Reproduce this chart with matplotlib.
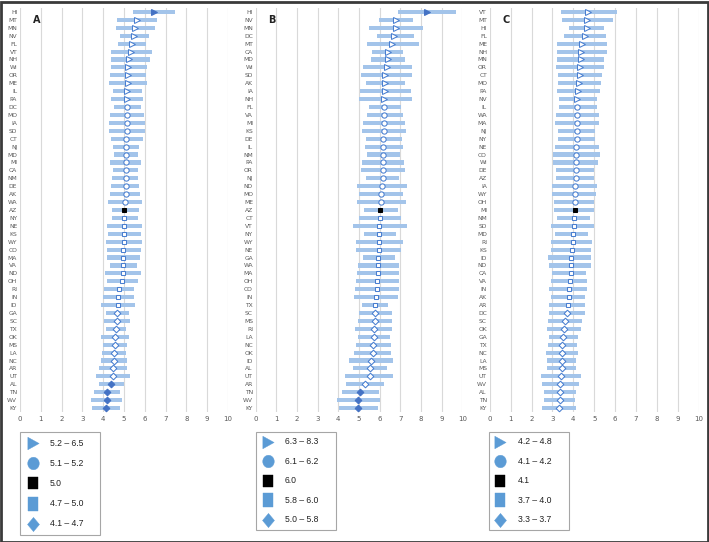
import matplotlib
matplotlib.use("Agg")
import numpy as np
import matplotlib.pyplot as plt
from matplotlib.patches import Rectangle

# ---------------- data ----------------
states_a = ["HI","MT","MN","NV","FL","VT","NH","WI","OR","ME","IL","PA","DC","MO","IA","SD","CT","NJ",
            "MD","MI","CA","NM","DE","AK","WA","AZ","NY","NE","KS","WY","CO","MA","VA","ND","OH","RI",
            "IN","ID","GA","SC","TX","OK","MS","LA","NC","AR","UT","AL","TN","WV","KY"]
est_a = [6.45,5.61,5.53,5.48,5.37,5.32,5.26,5.21,5.19,5.18,5.16,5.16,5.14,5.14,5.13,5.13,5.11,5.11,
         5.10,5.10,5.10,5.09,5.09,5.08,5.07,5.02,5.01,5.00,5.00,4.98,4.97,4.96,4.96,4.95,4.90,4.78,
         4.73,4.70,4.68,4.65,4.60,4.57,4.55,4.50,4.50,4.45,4.45,4.38,4.17,4.17,4.12]
lo_a = [5.45,4.68,4.62,4.81,4.70,4.36,4.36,4.36,4.34,4.28,4.49,4.39,4.50,4.34,4.26,4.26,4.36,4.47,
        4.50,4.34,4.46,4.44,4.39,4.31,4.25,4.41,4.42,4.20,4.23,4.15,4.17,4.17,4.33,4.10,4.17,4.06,
        4.01,3.91,4.14,4.04,4.12,3.90,4.00,3.96,3.88,3.81,3.65,3.81,3.56,3.43,3.45]
hi_a = [7.44,6.59,6.47,6.20,6.04,6.36,6.23,6.09,6.08,6.12,5.85,5.93,5.82,5.95,6.03,6.03,5.90,5.74,
        5.67,5.82,5.69,5.67,5.71,5.79,5.85,5.71,5.66,5.85,5.80,5.87,5.82,5.77,5.63,5.82,5.67,5.50,
        5.48,5.51,5.24,5.27,5.10,5.24,5.13,5.08,5.16,5.14,5.27,4.98,4.79,4.90,4.79]
sig_a = ["HI","AL","TN","WV","KY"]

states_b = ["HI","NV","MN","DC","MT","CA","MD","WI","SD","AK","IA","NH","FL","VA","MI","KS","DE","IL",
            "NM","PA","OR","NJ","ND","MO","ME","AZ","CT","VT","NY","WY","NE","GA","WA","MA","OH","CO",
            "IN","TX","SC","MS","RI","LA","NC","OK","ID","AL","UT","AR","TN","WV","KY"]
est_b = [8.28,6.77,6.77,6.71,6.60,6.39,6.39,6.34,6.27,6.26,6.26,6.23,6.20,6.20,6.19,6.19,6.18,6.18,
         6.18,6.16,6.16,6.16,6.10,6.06,6.06,6.03,6.00,5.99,5.99,5.97,5.96,5.94,5.92,5.90,5.87,5.87,
         5.81,5.77,5.77,5.77,5.74,5.71,5.69,5.68,5.58,5.53,5.52,5.31,5.07,4.97,4.97]
lo_b = [6.87,5.97,5.50,5.86,5.37,5.65,5.58,5.18,5.10,5.34,5.05,4.98,5.47,5.37,5.21,5.16,5.32,5.27,
        5.37,5.15,5.10,5.34,4.89,5.02,4.89,5.23,5.02,4.73,5.23,4.85,4.85,5.18,4.95,4.89,4.85,4.82,
        4.76,5.15,4.98,4.97,4.82,4.97,4.84,4.76,4.53,4.69,4.32,4.37,4.16,3.95,4.02]
hi_b = [9.68,7.63,8.11,7.66,7.89,7.15,7.23,7.55,7.57,7.23,7.53,7.55,7.05,7.11,7.21,7.26,7.08,7.11,
        7.00,7.18,7.23,6.95,7.32,7.15,7.27,6.87,7.02,7.31,6.79,7.11,7.05,6.73,6.92,6.92,6.92,6.94,
        6.89,6.42,6.58,6.58,6.61,6.48,6.55,6.56,6.63,6.34,6.66,6.23,5.97,6.00,5.94]
sig_b = ["HI","TN","WV","KY"]

states_c = ["VT","MT","HI","FL","ME","NH","MN","OR","CT","MO","PA","NV","IL","WA","MA","NJ","NY","NE",
            "CO","WI","DE","AZ","IA","WY","OH","MI","NM","SD","MD","RI","KS","ID","ND","CA","VA","IN",
            "AK","AR","DC","SC","OK","GA","TX","NC","LA","MS","UT","WV","AL","TN","KY"]
est_c = [4.72,4.64,4.64,4.55,4.40,4.35,4.35,4.31,4.31,4.26,4.21,4.20,4.20,4.18,4.17,4.16,4.16,4.15,
         4.15,4.13,4.12,4.11,4.10,4.10,4.10,4.08,4.05,4.03,3.98,3.98,3.95,3.89,3.89,3.87,3.86,3.81,
         3.79,3.76,3.70,3.62,3.54,3.51,3.48,3.46,3.45,3.45,3.40,3.38,3.37,3.35,3.30]
lo_c = [3.43,3.46,3.81,3.56,3.22,3.21,3.24,3.18,3.27,3.28,3.24,3.32,3.32,3.17,3.12,3.28,3.29,3.11,
        3.03,3.03,3.17,3.17,3.00,2.99,3.09,3.10,3.20,2.95,3.14,2.93,2.95,2.80,2.83,2.99,2.95,2.83,
        2.91,2.86,2.83,2.80,2.74,2.82,2.79,2.69,2.74,2.76,2.45,2.49,2.61,2.61,2.50]
hi_c = [6.11,5.88,5.48,5.56,5.61,5.59,5.49,5.48,5.39,5.31,5.26,5.15,5.12,5.22,5.24,5.03,5.03,5.21,
        5.26,5.18,5.00,5.00,5.12,5.09,5.01,5.00,4.80,5.00,4.72,4.89,4.83,4.86,4.83,4.60,4.64,4.64,
        4.56,4.54,4.54,4.43,4.35,4.21,4.16,4.24,4.14,4.11,4.35,4.29,4.13,4.10,4.14]
sig_c = []

legend_a = ["5.2 – 6.5", "5.1 – 5.2", "5.0", "4.7 – 5.0", "4.1 – 4.7"]
legend_b = ["6.3 – 8.3", "6.1 – 6.2", "6.0", "5.8 – 6.0", "5.0 – 5.8"]
legend_c = ["4.2 – 4.8", "4.1 – 4.2", "4.1", "3.7 – 4.0", "3.3 – 3.7"]
panel_labels = ["A", "B", "C"]
xticks = list(range(0, 11))

# ---------------- styles ----------------
group_sizes = [12, 13, 1, 12, 13]
group_markers = [">", "o", "s", "s", "D"]
group_msize = [4.0, 3.8, 3.5, 3.5, 3.4]

# tall legend symbols (Excel-like)
_t = np.linspace(0, 2 * np.pi, 40)
leg_markers = [
    [(-0.45, -0.5), (0.45, 0.0), (-0.45, 0.5), (-0.45, -0.5)],
    list(zip(0.46 * np.cos(_t), 0.5 * np.sin(_t))),
    [(-0.4, -0.5), (0.4, -0.5), (0.4, 0.5), (-0.4, 0.5), (-0.4, -0.5)],
    [(-0.38, -0.5), (0.38, -0.5), (0.38, 0.5), (-0.38, 0.5), (-0.38, -0.5)],
    [(0, -0.5), (0.42, 0), (0, 0.5), (-0.42, 0), (0, -0.5)],
]
leg_msize = [9.0, 9.0, 9.2, 10.2, 10.2]

BAR = "#a3c4ea"
EDGE = "#4a7fd0"
FILL = "#4472c4"
LEGC = "#5b9bd5"
TXT = "#595959"
GRID = "#d9d9d9"

W, H = 709, 542
fig = plt.figure(figsize=(W / 100, H / 100), dpi=100)

axes_px = [(20.0, 208.0), (255.7, 206.6), (489.7, 209.0)]
top_px, bot_px = 8.0, 412.0

panels = [(states_a, est_a, lo_a, hi_a, sig_a, legend_a),
          (states_b, est_b, lo_b, hi_b, sig_b, legend_b),
          (states_c, est_c, lo_c, hi_c, sig_c, legend_c)]

# legend layout in pixels: box (x, y, w, h), first row y, row step, marker x, text x
legend_layout = [
    (20, 432, 80, 103, 443, 20.2, 33, 50),
    (256, 432, 80, 98, 442, 19.4, 268, 285),
    (489, 432, 80, 98, 442, 19.4, 500, 518),
]

lax = fig.add_axes([0, 0, 1, 1])
lax.set_xlim(0, W)
lax.set_ylim(H, 0)
lax.axis("off")

for p, ((st, est, lo, hi, sig, leg), (x0, w)) in enumerate(zip(panels, axes_px)):
    ax = fig.add_axes([x0 / W, 1 - bot_px / H, w / W, (bot_px - top_px) / H])
    n = len(st)
    ys = list(range(n))
    ax.barh(ys, [h - l for l, h in zip(lo, hi)], left=lo, height=0.52,
            color=BAR, zorder=2, linewidth=0)
    idx = 0
    for g, size in enumerate(group_sizes):
        for i in range(idx, idx + size):
            if g == 2:
                fc, ec = "black", "black"
            elif st[i] in sig:
                fc, ec = FILL, FILL
            else:
                fc, ec = "white", EDGE
            ax.plot(est[i], ys[i], marker=group_markers[g], markersize=group_msize[g],
                    markerfacecolor=fc, markeredgecolor=ec, markeredgewidth=0.75,
                    linestyle="none", zorder=3)
        idx += size
    ax.set_xlim(0, 10)
    ax.set_ylim(n - 0.5, -0.5)
    ax.set_yticks(ys)
    ax.set_yticklabels(st, fontsize=4.3, color=TXT)
    ax.set_xticks(xticks)
    ax.set_xticklabels([str(t) for t in xticks], fontsize=5, color=TXT)
    ax.tick_params(axis="both", length=0, pad=2)
    ax.tick_params(axis="x", pad=3)
    ax.grid(axis="x", color=GRID, linewidth=0.8, zorder=0)
    for s in ax.spines.values():
        s.set_visible(False)
    ax.text(0.6, 1, panel_labels[p], fontsize=7, fontweight="bold", color="#222222",
            ha="left", va="center", zorder=4)

    bx, by, bw, bh, ry0, rstep, mx, tx = legend_layout[p]
    lax.add_patch(Rectangle((bx, by), bw, bh, fill=True, facecolor="white",
                            edgecolor="#a6a6a6", linewidth=0.8))
    for g in range(5):
        c = "black" if g == 2 else LEGC
        yy = ry0 + g * rstep
        lax.plot(mx, yy, marker=leg_markers[g], markersize=leg_msize[g],
                 markerfacecolor=c, markeredgecolor=c, markeredgewidth=0.3, linestyle="none")
        lax.text(tx, yy, leg[g], fontsize=6.2, color="#222222", ha="left", va="center",
                 family="Liberation Sans")

fig.patches.append(Rectangle((0.5 / W, 0.5 / H), 1 - 2 / W, 1 - 2 / H, transform=fig.transFigure,
                             fill=False, edgecolor="#3a3a3a", linewidth=2.0, zorder=10))

fig.savefig("out.png", dpi=100)
